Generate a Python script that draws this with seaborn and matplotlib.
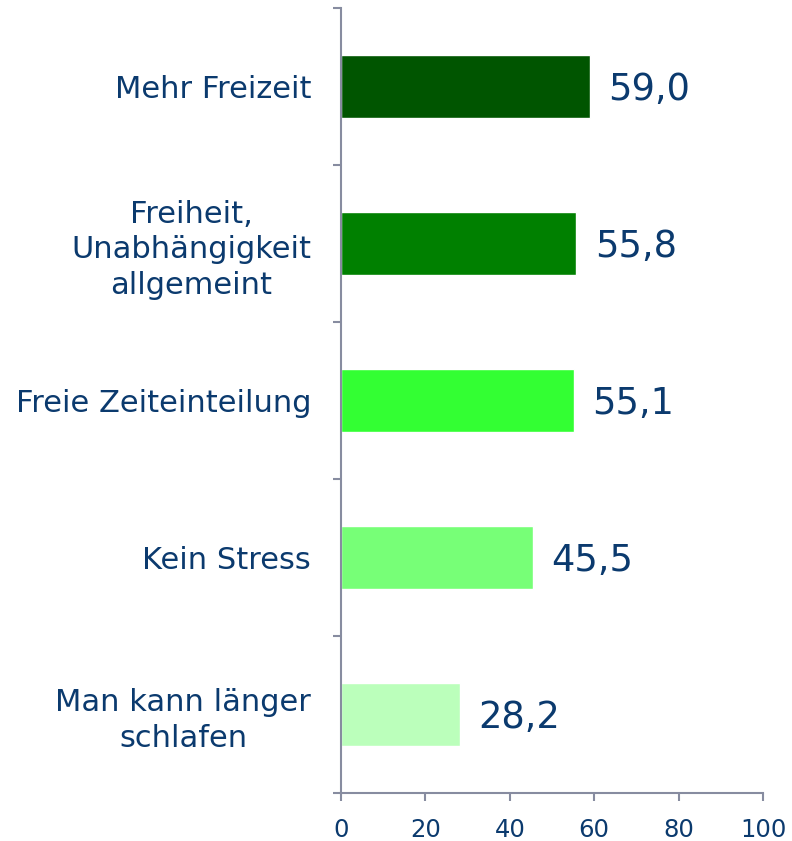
import matplotlib
matplotlib.use("Agg")
import matplotlib.pyplot as plt
import pandas as pd
import seaborn as sns

# data
categories = ["Mehr Freizeit", "Freiheit,\nUnabhängigkeit\nallgemeint",
              "Freie Zeiteinteilung", "Kein Stress", "Man kann länger\nschlafen"]
values = [59.0, 55.8, 55.1, 45.5, 28.2]
bar_colors = ["#005500", "#008000", "#33FF33", "#77FF77", "#BBFFBB"]
x_ticks = [0, 20, 40, 60, 80, 100]

text_col = "#0B3A6E"
axis_col = "#878CA0"

sns.set_style("white")
plt.rcParams['font.family'] = ['DejaVu Sans']

df = pd.DataFrame({"cat": categories, "val": values})

fig = plt.figure(figsize=(7.92, 8.41), dpi=100)
ax = fig.add_axes([0.4306, 0.0571, 0.5328, 0.9334])

sns.barplot(data=df, x="val", y="cat", hue="cat", palette=bar_colors,
            orient="h", width=0.4, legend=False, ax=ax, saturation=1)

ax.set_xlim(0, 100)
ax.set_ylim(len(categories) - 0.5, -0.5)
ax.set_xlabel("")
ax.set_ylabel("")

# value labels
for i, v in enumerate(values):
    ax.text(v + 4.3, i + 0.02, f"{v:.1f}".replace(".", ","), va="center", ha="left",
            fontsize=26.5, color=text_col)

# axes look
for s in ["top", "right"]:
    ax.spines[s].set_visible(False)
for s in ["left", "bottom"]:
    ax.spines[s].set_color(axis_col)
    ax.spines[s].set_linewidth(1.5)

ax.set_xticks(x_ticks)
ax.set_xticklabels([str(t) for t in x_ticks])
ax.tick_params(axis="x", direction="out", length=6, width=1.5, color=axis_col,
               labelsize=17.5, labelcolor=text_col, pad=12, bottom=True)

ax.set_yticks(range(len(categories)))
ax.set_yticklabels(categories, ha="right", multialignment="center", linespacing=1.3)
ax.set_yticks([i - 0.5 for i in range(len(categories) + 1)], minor=True)
ax.tick_params(axis="y", which="major", length=0, labelsize=22,
               labelcolor=text_col, pad=21.6)
ax.tick_params(axis="y", which="minor", direction="out", length=6, width=1.5,
               color=axis_col, left=True)

fig.savefig("out.png", dpi=100)
